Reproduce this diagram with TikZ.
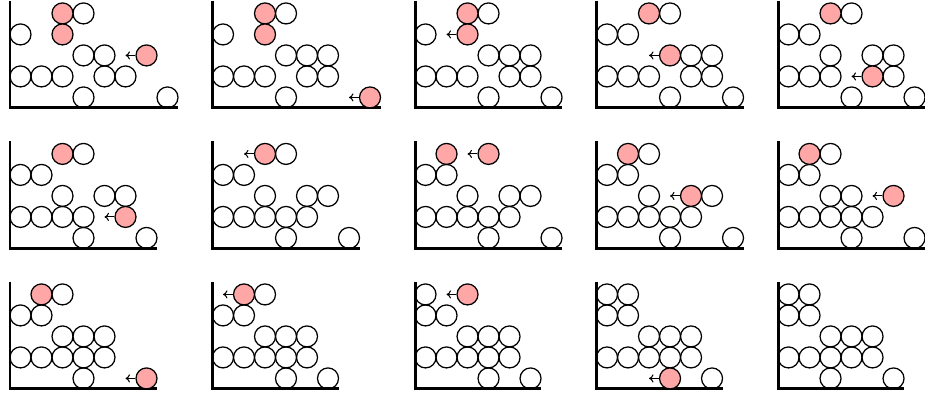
\documentclass[tikz,border=0pt]{standalone}
\usepackage{xcolor}
\usepackage{tikz}
\usetikzlibrary{arrows.meta}

\begin{document}
\begin{tikzpicture}[x=0.5cm, y=0.5cm, >={To[length=3pt, width=5.5pt]},
        ball/.style={draw, circle, line width=0.85pt, minimum size=0.5cm, inner sep=0pt},
        hot/.style={ball, fill=red!35},
        axis/.style={line width=2pt},
        push/.style={->, line width=0.7pt},
    ]
    \useasboundingbox (-0.476,-0.43) rectangle (43.57,18.52);

    % Row 1
    \begin{scope}[shift={(0,13.38)}]
        \draw[axis] (0,5.1) |- (8,0);
        \foreach \c/\r in {3/4,0/3,3/2,4/2,0/1,1/1,2/1,4/1,5/1,3/0,7/0}
            \node[ball] (s1-\c-\r) at (\c+0.5,\r+0.5) {};
        \node[hot] (s1-2-4) at (2.5,4.5) {};
        \node[hot] (s1-2-3) at (2.5,3.5) {};
        \node[hot] (s1-6-2) at (6.5,2.5) {};
        \coordinate (s1-t) at (5.5,2.5);
        \draw[push] (s1-6-2) -- (s1-t);
    \end{scope}

    \begin{scope}[shift={(9.643,13.38)}]
        \draw[axis] (0,5.1) |- (8,0);
        \foreach \c/\r in {3/4,0/3,3/2,4/2,5/2,0/1,1/1,2/1,4/1,5/1,3/0}
            \node[ball] (s2-\c-\r) at (\c+0.5,\r+0.5) {};
        \node[hot] (s2-2-4) at (2.5,4.5) {};
        \node[hot] (s2-2-3) at (2.5,3.5) {};
        \node[hot] (s2-7-0) at (7.5,0.5) {};
        \coordinate (s2-t) at (6.5,0.5);
        \draw[push] (s2-7-0) -- (s2-t);
    \end{scope}

    \begin{scope}[shift={(19.286,13.38)}]
        \draw[axis] (0,5.1) |- (7,0);
        \foreach \c/\r in {3/4,0/3,3/2,4/2,5/2,0/1,1/1,2/1,4/1,5/1,3/0,6/0}
            \node[ball] (s3-\c-\r) at (\c+0.5,\r+0.5) {};
        \node[hot] (s3-2-4) at (2.5,4.5) {};
        \node[hot] (s3-2-3) at (2.5,3.5) {};
        \coordinate (s3-t) at (1.5,3.5);
        \draw[push] (s3-2-3) -- (s3-t);
    \end{scope}

    \begin{scope}[shift={(27.929,13.38)}]
        \draw[axis] (0,5.1) |- (7,0);
        \foreach \c/\r in {3/4,0/3,1/3,4/2,5/2,0/1,1/1,2/1,4/1,5/1,3/0,6/0}
            \node[ball] (s4-\c-\r) at (\c+0.5,\r+0.5) {};
        \node[hot] (s4-2-4) at (2.5,4.5) {};
        \node[hot] (s4-3-2) at (3.5,2.5) {};
        \coordinate (s4-t) at (2.5,2.5);
        \draw[push] (s4-3-2) -- (s4-t);
    \end{scope}

    \begin{scope}[shift={(36.571,13.38)}]
        \draw[axis] (0,5.1) |- (7,0);
        \foreach \c/\r in {3/4,0/3,1/3,2/2,4/2,5/2,0/1,1/1,2/1,5/1,3/0,6/0}
            \node[ball] (s5-\c-\r) at (\c+0.5,\r+0.5) {};
        \node[hot] (s5-2-4) at (2.5,4.5) {};
        \node[hot] (s5-4-1) at (4.5,1.5) {};
        \coordinate (s5-t) at (3.5,1.5);
        \draw[push] (s5-4-1) -- (s5-t);
    \end{scope}

    % Row 2
    \begin{scope}[shift={(0,6.69)}]
        \draw[axis] (0,5.1) |- (7,0);
        \foreach \c/\r in {3/4,0/3,1/3,2/2,4/2,5/2,0/1,1/1,2/1,3/1,3/0,6/0}
            \node[ball] (s6-\c-\r) at (\c+0.5,\r+0.5) {};
        \node[hot] (s6-2-4) at (2.5,4.5) {};
        \node[hot] (s6-5-1) at (5.5,1.5) {};
        \coordinate (s6-t) at (4.5,1.5);
        \draw[push] (s6-5-1) -- (s6-t);
    \end{scope}

    \begin{scope}[shift={(9.643,6.69)}]
        \draw[axis] (0,5.1) |- (7,0);
        \foreach \c/\r in {3/4,0/3,1/3,2/2,4/2,5/2,0/1,1/1,2/1,3/1,4/1,3/0,6/0}
            \node[ball] (s7-\c-\r) at (\c+0.5,\r+0.5) {};
        \node[hot] (s7-2-4) at (2.5,4.5) {};
        \coordinate (s7-t) at (1.5,4.5);
        \draw[push] (s7-2-4) -- (s7-t);
    \end{scope}

    \begin{scope}[shift={(19.286,6.69)}]
        \draw[axis] (0,5.1) |- (7,0);
        \foreach \c/\r in {0/3,1/3,2/2,4/2,5/2,0/1,1/1,2/1,3/1,4/1,3/0,6/0}
            \node[ball] (s8-\c-\r) at (\c+0.5,\r+0.5) {};
        \node[hot] (s8-1-4) at (1.5,4.5) {};
        \node[hot] (s8-3-4) at (3.5,4.5) {};
        \coordinate (s8-t) at (2.5,4.5);
        \draw[push] (s8-3-4) -- (s8-t);
    \end{scope}

    \begin{scope}[shift={(27.929,6.69)}]
        \draw[axis] (0,5.1) |- (7,0);
        \foreach \c/\r in {2/4,0/3,1/3,2/2,5/2,0/1,1/1,2/1,3/1,4/1,3/0,6/0}
            \node[ball] (s9-\c-\r) at (\c+0.5,\r+0.5) {};
        \node[hot] (s9-1-4) at (1.5,4.5) {};
        \node[hot] (s9-4-2) at (4.5,2.5) {};
        \coordinate (s9-t) at (3.5,2.5);
        \draw[push] (s9-4-2) -- (s9-t);
    \end{scope}

    \begin{scope}[shift={(36.571,6.69)}]
        \draw[axis] (0,5.1) |- (7,0);
        \foreach \c/\r in {2/4,0/3,1/3,2/2,3/2,0/1,1/1,2/1,3/1,4/1,3/0,6/0}
            \node[ball] (s10-\c-\r) at (\c+0.5,\r+0.5) {};
        \node[hot] (s10-1-4) at (1.5,4.5) {};
        \node[hot] (s10-5-2) at (5.5,2.5) {};
        \coordinate (s10-t) at (4.5,2.5);
        \draw[push] (s10-5-2) -- (s10-t);
    \end{scope}

    % Row 3
    \begin{scope}[shift={(0,0)}]
        \draw[axis] (0,5.1) |- (7,0);
        \foreach \c/\r in {2/4,0/3,1/3,2/2,3/2,4/2,0/1,1/1,2/1,3/1,4/1,3/0}
            \node[ball] (s11-\c-\r) at (\c+0.5,\r+0.5) {};
        \node[hot] (s11-1-4) at (1.5,4.5) {};
        \node[hot] (s11-6-0) at (6.5,0.5) {};
        \coordinate (s11-t) at (5.5,0.5);
        \draw[push] (s11-6-0) -- (s11-t);
    \end{scope}

    \begin{scope}[shift={(9.643,0)}]
        \draw[axis] (0,5.1) |- (6,0);
        \foreach \c/\r in {2/4,0/3,1/3,2/2,3/2,4/2,0/1,1/1,2/1,3/1,4/1,3/0,5/0}
            \node[ball] (s12-\c-\r) at (\c+0.5,\r+0.5) {};
        \node[hot] (s12-1-4) at (1.5,4.5) {};
        \coordinate (s12-t) at (0.5,4.5);
        \draw[push] (s12-1-4) -- (s12-t);
    \end{scope}

    \begin{scope}[shift={(19.286,0)}]
        \draw[axis] (0,5.1) |- (6,0);
        \foreach \c/\r in {0/4,0/3,1/3,2/2,3/2,4/2,0/1,1/1,2/1,3/1,4/1,3/0,5/0}
            \node[ball] (s13-\c-\r) at (\c+0.5,\r+0.5) {};
        \node[hot] (s13-2-4) at (2.5,4.5) {};
        \coordinate (s13-t) at (1.5,4.5);
        \draw[push] (s13-2-4) -- (s13-t);
    \end{scope}

    \begin{scope}[shift={(27.929,0)}]
        \draw[axis] (0,5.1) |- (6,0);
        \foreach \c/\r in {0/4,1/4,0/3,1/3,2/2,3/2,4/2,0/1,1/1,2/1,3/1,4/1,5/0}
            \node[ball] (s14-\c-\r) at (\c+0.5,\r+0.5) {};
        \node[hot] (s14-3-0) at (3.5,0.5) {};
        \coordinate (s14-t) at (2.5,0.5);
        \draw[push] (s14-3-0) -- (s14-t);
    \end{scope}

    \begin{scope}[shift={(36.571,0)}]
        \draw[axis] (0,5.1) |- (6,0);
        \foreach \c/\r in {0/4,1/4,0/3,1/3,2/2,3/2,4/2,0/1,1/1,2/1,3/1,4/1,2/0,5/0}
            \node[ball] (s15-\c-\r) at (\c+0.5,\r+0.5) {};
    \end{scope}

\end{tikzpicture}
\end{document}
